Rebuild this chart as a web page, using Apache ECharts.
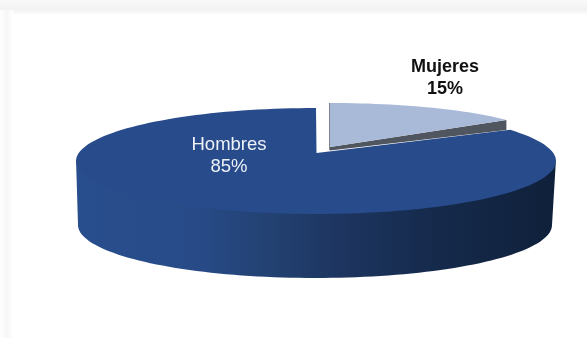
<!DOCTYPE html>
<html><head><meta charset="utf-8">
<style>html,body{margin:0;padding:0;background:#fff}#c{width:587px;height:338px}</style>
<script src="https://cdn.jsdelivr.net/npm/echarts@6/dist/echarts.min.js"></script>
</head><body><div id="c"></div>
<script>
var categories = ['Hombres', 'Mujeres'];
var shares = [85, 15];
var labels = ['85%', '15%'];

var total = shares[0] + shares[1];
var MAIN = {cx:316, cy:161, rx:240, ry:53, ax:316.5, ay:153, depth:65, shrink:3};
var PIECE = {cx:330, cy:144, rx:218, ry:41, ax:330, ay:147};
function pt(g, deg){var r=deg*Math.PI/180;return [g.cx+g.rx*Math.sin(r), g.cy-g.ry*Math.cos(r)];}
function arc(g, a, b){var out=[],n=Math.max(2,Math.ceil(Math.abs(b-a)/2));for(var i=0;i<=n;i++)out.push(pt(g,a+(b-a)*i/n));return out;}

function renderItem(params, api){
  var isMain = params.dataIndex === 0;
  var womenDeg = 360*api.value(2)/total;
  var name = categories[params.dataIndex], pct = labels[params.dataIndex];
  var kids = [];
  if (isMain) {
    var bottom = {cx:MAIN.cx-1, cy:MAIN.cy+MAIN.depth-1, rx:MAIN.rx-MAIN.shrink, ry:MAIN.ry};
    var under = {cx:MAIN.cx, cy:MAIN.cy-2, rx:MAIN.rx, ry:MAIN.ry};
    var wall = arc(under,90,270).concat(arc(bottom,270,90));
    kids.push({type:'polygon',shape:{points:wall},style:{fill:{type:'linear',x:76,y:0,x2:556,y2:0,global:true,colorStops:[
      {offset:0,color:'#294e8d'},{offset:0.25,color:'#284b88'},{offset:0.42,color:'#22406f'},{offset:0.55,color:'#1d3560'},{offset:0.75,color:'#152a4b'},{offset:1,color:'#0f203a'}]}}});
    var face = [[MAIN.ax,MAIN.ay]].concat(arc(MAIN,womenDeg,360));
    kids.push({type:'polygon',shape:{points:face},style:{fill:'#274b8b'}});
    kids.push({type:'text',style:{text:name+'\n'+pct,x:229,y:156,align:'center',verticalAlign:'middle',fill:'#eef2f8',font:'18.5px "Liberation Sans"',lineHeight:22}});
  } else {
    var end = pt(PIECE, api.value(1)*360/total);
    kids.push({type:'polygon',shape:{points:[[PIECE.ax,PIECE.ay],end,[end[0],end[1]+10],[PIECE.ax,PIECE.ay+3.5]]},style:{fill:'#50565f'}});
    kids.push({type:'polygon',shape:{points:[[PIECE.ax-1,PIECE.cy-PIECE.ry],[PIECE.ax,PIECE.cy-PIECE.ry],[PIECE.ax,PIECE.ay+3],[PIECE.ax-1,PIECE.ay+3]]},style:{fill:'#7d8490'}});
    var wedge = [[PIECE.ax,PIECE.ay]].concat(arc(PIECE,0,api.value(1)*360/total));
    kids.push({type:'polygon',shape:{points:wedge},style:{fill:'#a9b9d8'}});
    kids.push({type:'text',style:{text:name+'\n'+pct,x:445,y:78,align:'center',verticalAlign:'middle',fill:'#111',font:'bold 18px "Liberation Sans"',lineHeight:22}});
  }
  return {type:'group',children:kids};
}

var chart = echarts.init(document.getElementById('c'), null, {renderer:'canvas'});
chart.setOption({
  animation:false,
  backgroundColor:'#ffffff',
  graphic:[
    {type:'rect',silent:true,shape:{x:0,y:0,width:587,height:15},style:{fill:{type:'linear',x:0,y:0,x2:0,y2:1,colorStops:[{offset:0,color:'#f9f9f9'},{offset:0.65,color:'#f2f2f2'},{offset:1,color:'#ffffff'}]}}},
    {type:'rect',silent:true,shape:{x:0,y:10,width:13,height:328},style:{fill:{type:'linear',x:0,y:0,x2:1,y2:0,colorStops:[{offset:0,color:'#fefefe'},{offset:0.55,color:'#f6f6f6'},{offset:1,color:'#ffffff'}]}}}
  ],
  series:[{
    type:'custom',coordinateSystem:'none',renderItem:renderItem,silent:true,
    data:[[categories[0],shares[0],shares[1]],[categories[1],shares[1],shares[1]]],
    encode:{value:[1,2]}
  }]
});
</script></body></html>
